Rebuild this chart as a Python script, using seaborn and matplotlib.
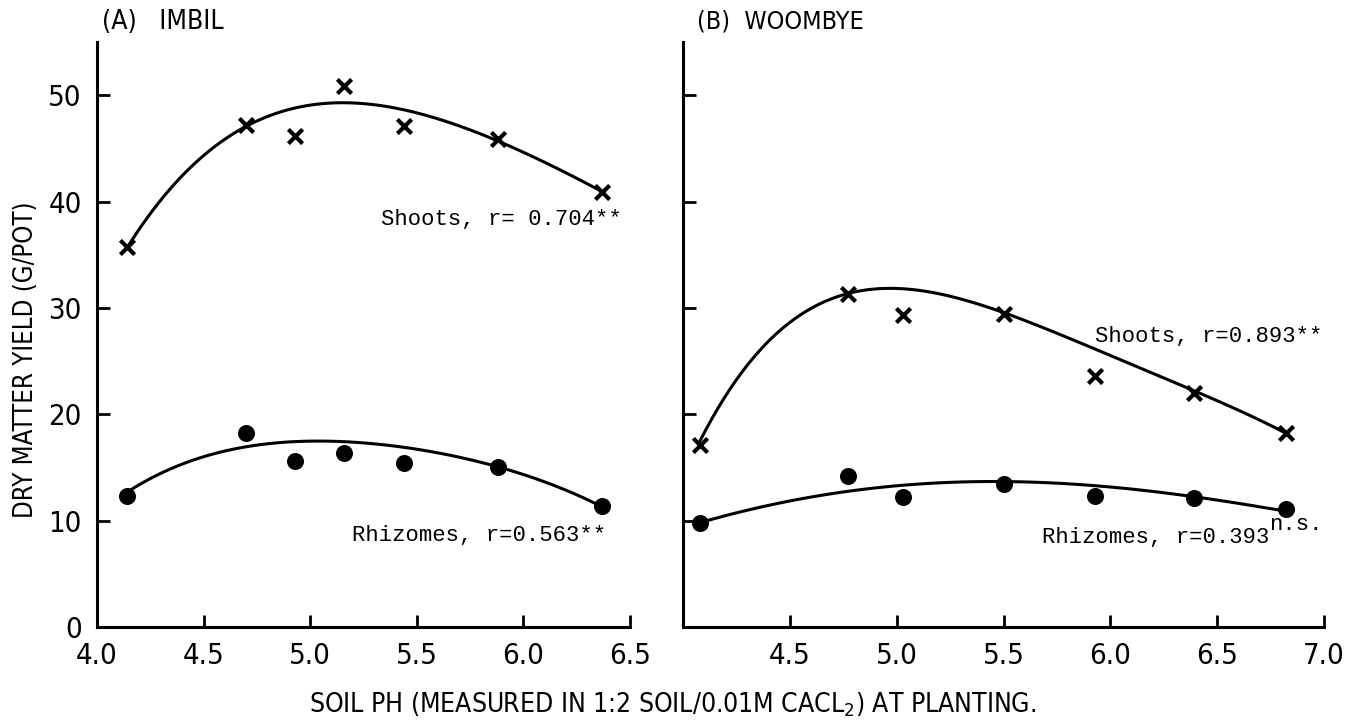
import numpy as np
import pandas as pd
import matplotlib
matplotlib.use("Agg")
import matplotlib.pyplot as plt
import seaborn as sns

# ---------------- data ----------------
# Panel A: Imbil
imbil_ph = [4.14, 4.70, 4.93, 5.16, 5.44, 5.88, 6.37]
imbil_shoots = [35.7, 47.2, 46.2, 50.9, 47.1, 45.9, 40.9]
imbil_rhizomes = [12.3, 18.2, 15.6, 16.4, 15.4, 15.0, 11.4]
# fitted curves
imbil_shoots_curve_ph = [4.14, 4.42, 4.70, 4.93, 5.10, 5.44, 5.66, 5.88, 6.37]
imbil_shoots_curve = [35.7, 42.6, 47.2, 49.0, 49.2, 48.4, 47.4, 45.8, 40.9]
imbil_rhiz_curve_ph = [4.13, 4.40, 4.70, 5.01, 5.44, 5.88, 6.36]
imbil_rhiz_curve = [12.5, 15.4, 16.9, 17.4, 17.0, 15.0, 11.4]

# Panel B: Woombye
woombye_ph = [4.08, 4.77, 5.03, 5.50, 5.93, 6.39, 6.82]
woombye_shoots = [17.1, 31.3, 29.3, 29.4, 23.6, 22.0, 18.2]
woombye_rhizomes = [9.8, 14.2, 12.2, 13.4, 12.3, 12.1, 11.1]
woombye_shoots_curve_ph = [4.08, 4.34, 4.77, 5.03, 5.19, 5.50, 5.92, 6.39, 6.82]
woombye_shoots_curve = [17.3, 26.1, 30.9, 31.7, 31.5, 29.6, 26.4, 22.0, 18.3]
woombye_rhiz_curve_ph = [4.08, 4.50, 5.00, 5.50, 6.00, 6.39, 6.82]
woombye_rhiz_curve = [9.8, 11.9, 13.2, 13.7, 13.2, 12.2, 10.9]

y_ticks = [0, 10, 20, 30, 40, 50]
x_ticks_a = [4.0, 4.5, 5.0, 5.5, 6.0, 6.5]
x_ticks_b = [4.5, 5.0, 5.5, 6.0, 6.5, 7.0]

titles = ["(A)   IMBIL", "(B)  WOOMBYE"]
labels_a = ["Shoots, r= 0.704**", "Rhizomes, r=0.563**"]
labels_b = ["Shoots, r=0.893**", "Rhizomes, r=0.393"]
ylabel = "DRY MATTER YIELD (G/POT)"
xlabel = "SOIL PH (MEASURED IN 1:2 SOIL/0.01M CACL$_2$) AT PLANTING."

# ---------------- style ----------------
sns.set_theme(style="ticks")
NARROW = ["DejaVu Sans", "Liberation Sans"]
MONO = ["Liberation Mono", "DejaVu Sans Mono"]
plt.rcParams["font.family"] = NARROW
plt.rcParams["font.stretch"] = "condensed"
plt.rcParams["mathtext.fontset"] = "dejavusans"
plt.rcParams["text.color"] = "black"

fig = plt.figure(figsize=(13.51, 7.26), dpi=100)
fig.patch.set_facecolor("white")
ax_a = fig.add_axes([0.0718, 0.1364, 0.3945, 0.8058])
ax_b = fig.add_axes([0.5056, 0.1364, 0.4744, 0.8058])


def draw_panel(ax, ph, shoots, rhiz, sc_x, sc_y, rc_x, rc_y):
    df = pd.DataFrame({"ph": ph, "shoots": shoots, "rhiz": rhiz})
    sns.scatterplot(data=df, x="ph", y="shoots", marker="x", s=105,
                    color="black", linewidth=3, ax=ax, zorder=3)
    sns.scatterplot(data=df, x="ph", y="rhiz", marker="o", s=150,
                    color="black", edgecolor="black", linewidth=0, ax=ax, zorder=3)
    cs = pd.DataFrame({"ph": sc_x, "y": sc_y})
    cr = pd.DataFrame({"ph": rc_x, "y": rc_y})
    sns.regplot(data=cs, x="ph", y="y", order=4, scatter=False, ci=None,
                truncate=True, line_kws={"color": "black", "lw": 2.2}, ax=ax)
    sns.regplot(data=cr, x="ph", y="y", order=4, scatter=False, ci=None,
                truncate=True, line_kws={"color": "black", "lw": 2.2}, ax=ax)
    ax.set_ylim(0, 55)
    ax.set_xlabel("")
    ax.set_ylabel("")
    for s in ["top", "right"]:
        ax.spines[s].set_visible(False)
    for s in ["left", "bottom"]:
        ax.spines[s].set_linewidth(2.2)
        ax.spines[s].set_color("black")
    ax.tick_params(direction="in", length=9, width=2, color="black",
                   labelsize=21, pad=11, labelcolor="black")


draw_panel(ax_a, imbil_ph, imbil_shoots, imbil_rhizomes,
           imbil_shoots_curve_ph, imbil_shoots_curve,
           imbil_rhiz_curve_ph, imbil_rhiz_curve)
draw_panel(ax_b, woombye_ph, woombye_shoots, woombye_rhizomes,
           woombye_shoots_curve_ph, woombye_shoots_curve,
           woombye_rhiz_curve_ph, woombye_rhiz_curve)

ax_a.set_xlim(4.0, 6.5)
ax_a.set_xticks(x_ticks_a)
ax_a.set_xticklabels([f"{v:.1f}" for v in x_ticks_a])
ax_a.set_yticks(y_ticks)
ax_a.set_yticklabels([str(v) for v in y_ticks])

ax_b.set_xlim(4.0, 7.0)
ax_b.set_xticks(x_ticks_b)
ax_b.set_xticklabels([f"{v:.1f}" for v in x_ticks_b])
ax_b.set_yticks(y_ticks[1:])
ax_b.set_yticklabels([])

# annotations
ax_a.text(5.33, 38.3, labels_a[0], family=MONO, fontsize=16, color="black",
          va="center", ha="left")
ax_a.text(5.195, 8.6, labels_a[1], family=MONO, fontsize=16, color="black",
          va="center", ha="left")
ax_b.text(5.93, 27.3, labels_b[0], family=MONO, fontsize=16, color="black",
          va="center", ha="left")
t = ax_b.text(5.68, 8.4, labels_b[1], family=MONO, fontsize=16, color="black",
              va="center", ha="left")
ax_b.annotate("n.s.", xy=(1.0, 0.62), xycoords=t, family=MONO, fontsize=16,
              color="black", va="bottom", ha="left")

# titles and axis labels
fig.text(0.0755, 0.970, titles[0], fontsize=19, color="black", va="center", ha="left")
fig.text(0.516, 0.970, titles[1], fontsize=18, color="black", va="center", ha="left")
fig.text(0.019, 0.505, ylabel, fontsize=18.5, color="black", rotation=90,
         va="center", ha="center")
fig.text(0.498, 0.029, xlabel, fontsize=19, color="black", va="center", ha="center")

fig.savefig("out.png", dpi=100, facecolor="white")
